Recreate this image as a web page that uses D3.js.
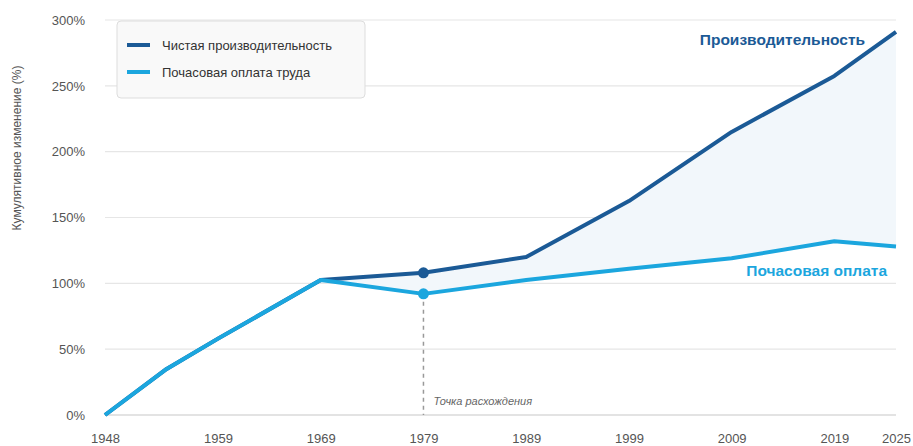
<!DOCTYPE html>
<head>
  <meta charset="utf-8">
  <script src="https://d3js.org/d3.v7.min.js"></script>
  <style>
    body { margin:0; background:#fff; }
    svg { display:block; font-family:"Liberation Sans", Arial, sans-serif; }
  </style>
</head>

<body>
  <script>
    // data
    var years        = [1948, 1954, 1959, 1969, 1979, 1989, 1999, 2009, 2019, 2025];
    var productivity = [0, 35, 58, 102.5, 108, 120, 162.5, 215, 257.5, 291];
    var wages        = [0, 35, 58, 102.5, 92, 102.5, 111, 119, 132, 128];
    var tickYears    = [1948, 1959, 1969, 1979, 1989, 1999, 2009, 2019, 2025];
    var tickPcts     = [0, 50, 100, 150, 200, 250, 300];
    var divergeYear  = 1979;
    var gapStart     = 1969;

    var width = 913, height = 446,
        mLeft = 105, mRight = 896, mTop = 20, mBottom = 415;

    var darkBlue = "#1b5a96", lightBlue = "#1ba6de";

    var svg = d3.select("body").append("svg")
        .attr("width", width)
        .attr("height", height);

    var x = d3.scaleLinear().domain([1948, 2025]).range([mLeft, mRight]);
    var y = d3.scaleLinear().domain([0, 300]).range([mBottom, mTop]);

    var rows = years.map(function(d, i){
      return { year: d, prod: productivity[i], wage: wages[i] };
    });

    // grid
    svg.append("g").selectAll("line").data(tickPcts)
      .enter().append("line")
        .attr("x1", mLeft).attr("x2", mRight)
        .attr("y1", function(d){ return y(d); })
        .attr("y2", function(d){ return y(d); })
        .attr("stroke", function(d){ return d === 0 ? "#c8c8c8" : "#e6e6e6"; })
        .attr("stroke-width", 1.2);

    // y axis labels
    var yAxis = svg.append("g")
        .attr("transform", "translate(" + (mLeft - 17) + ",0)")
        .call(d3.axisLeft(y).tickValues(tickPcts).tickSize(0).tickFormat(function(d){ return d + "%"; }));
    yAxis.select(".domain").remove();
    yAxis.selectAll("text").attr("fill", "#555").attr("font-size", 13).attr("font-family", "Liberation Sans, Arial, sans-serif");

    // x axis labels
    var xAxis = svg.append("g")
        .attr("transform", "translate(0," + (mBottom + 16) + ")")
        .call(d3.axisBottom(x).tickValues(tickYears).tickSize(0).tickFormat(d3.format("d")));
    xAxis.select(".domain").remove();
    xAxis.selectAll("text").attr("fill", "#555").attr("font-size", 13).attr("font-family", "Liberation Sans, Arial, sans-serif");

    svg.append("text")
        .attr("transform", "translate(21,148) rotate(-90)")
        .attr("text-anchor", "middle")
        .attr("fill", "#555")
        .attr("font-size", 12)
        .text("Кумулятивное изменение (%)");

    // gap area
    var gap = rows.filter(function(d){ return d.year >= gapStart; });
    svg.append("path")
        .datum(gap)
        .attr("fill", "#f2f7fb")
        .attr("d", d3.area()
          .x(function(d){ return x(d.year); })
          .y0(function(d){ return y(d.wage); })
          .y1(function(d){ return y(d.prod); }));

    // divergence marker
    var dv = rows.filter(function(d){ return d.year === divergeYear; })[0];
    svg.append("line")
        .attr("x1", x(divergeYear)).attr("x2", x(divergeYear))
        .attr("y1", y(dv.wage)).attr("y2", mBottom)
        .attr("stroke", "#999")
        .attr("stroke-width", 1.5)
        .attr("stroke-dasharray", "4,4");

    svg.append("text")
        .attr("x", x(divergeYear) + 10)
        .attr("y", mBottom - 10)
        .attr("fill", "#666")
        .attr("font-size", 11)
        .attr("font-style", "italic")
        .text("Точка расхождения");

    var line = function(key){
      return d3.line()
        .x(function(d){ return x(d.year); })
        .y(function(d){ return y(d[key]); });
    };

    svg.append("path").datum(rows)
        .attr("fill", "none").attr("stroke", darkBlue)
        .attr("stroke-width", 4).attr("stroke-linejoin", "round")
        .attr("d", line("prod"));

    svg.append("path").datum(rows)
        .attr("fill", "none").attr("stroke", lightBlue)
        .attr("stroke-width", 4).attr("stroke-linejoin", "round")
        .attr("d", line("wage"));

    svg.append("circle")
        .attr("cx", x(divergeYear)).attr("cy", y(dv.prod)).attr("r", 5.5)
        .attr("fill", darkBlue);
    svg.append("circle")
        .attr("cx", x(divergeYear)).attr("cy", y(dv.wage)).attr("r", 5.5)
        .attr("fill", lightBlue);

    // end labels
    svg.append("text")
        .attr("x", 865).attr("y", 45)
        .attr("text-anchor", "end")
        .attr("fill", darkBlue)
        .attr("font-size", 15.5).attr("font-weight", "bold")
        .text("Производительность");

    svg.append("text")
        .attr("x", 887).attr("y", 276)
        .attr("text-anchor", "end")
        .attr("fill", lightBlue)
        .attr("font-size", 15.5).attr("font-weight", "bold")
        .text("Почасовая оплата");

    // legend
    var legend = svg.append("g").attr("transform", "translate(117,21)");
    legend.append("rect")
        .attr("width", 248).attr("height", 77).attr("rx", 4)
        .attr("fill", "#f9f9f9").attr("stroke", "#ddd");

    var items = [
      { label: "Чистая производительность", color: darkBlue },
      { label: "Почасовая оплата труда", color: lightBlue }
    ];
    var li = legend.selectAll("g.item").data(items)
      .enter().append("g")
        .attr("transform", function(d, i){ return "translate(0," + (24 + i * 27) + ")"; });
    li.append("line")
        .attr("x1", 10).attr("x2", 33)
        .attr("stroke", function(d){ return d.color; })
        .attr("stroke-width", 4);
    li.append("text")
        .attr("x", 45).attr("y", 4.5)
        .attr("fill", "#333")
        .attr("font-size", 13)
        .text(function(d){ return d.label; });
  </script>
</body>

</html>
